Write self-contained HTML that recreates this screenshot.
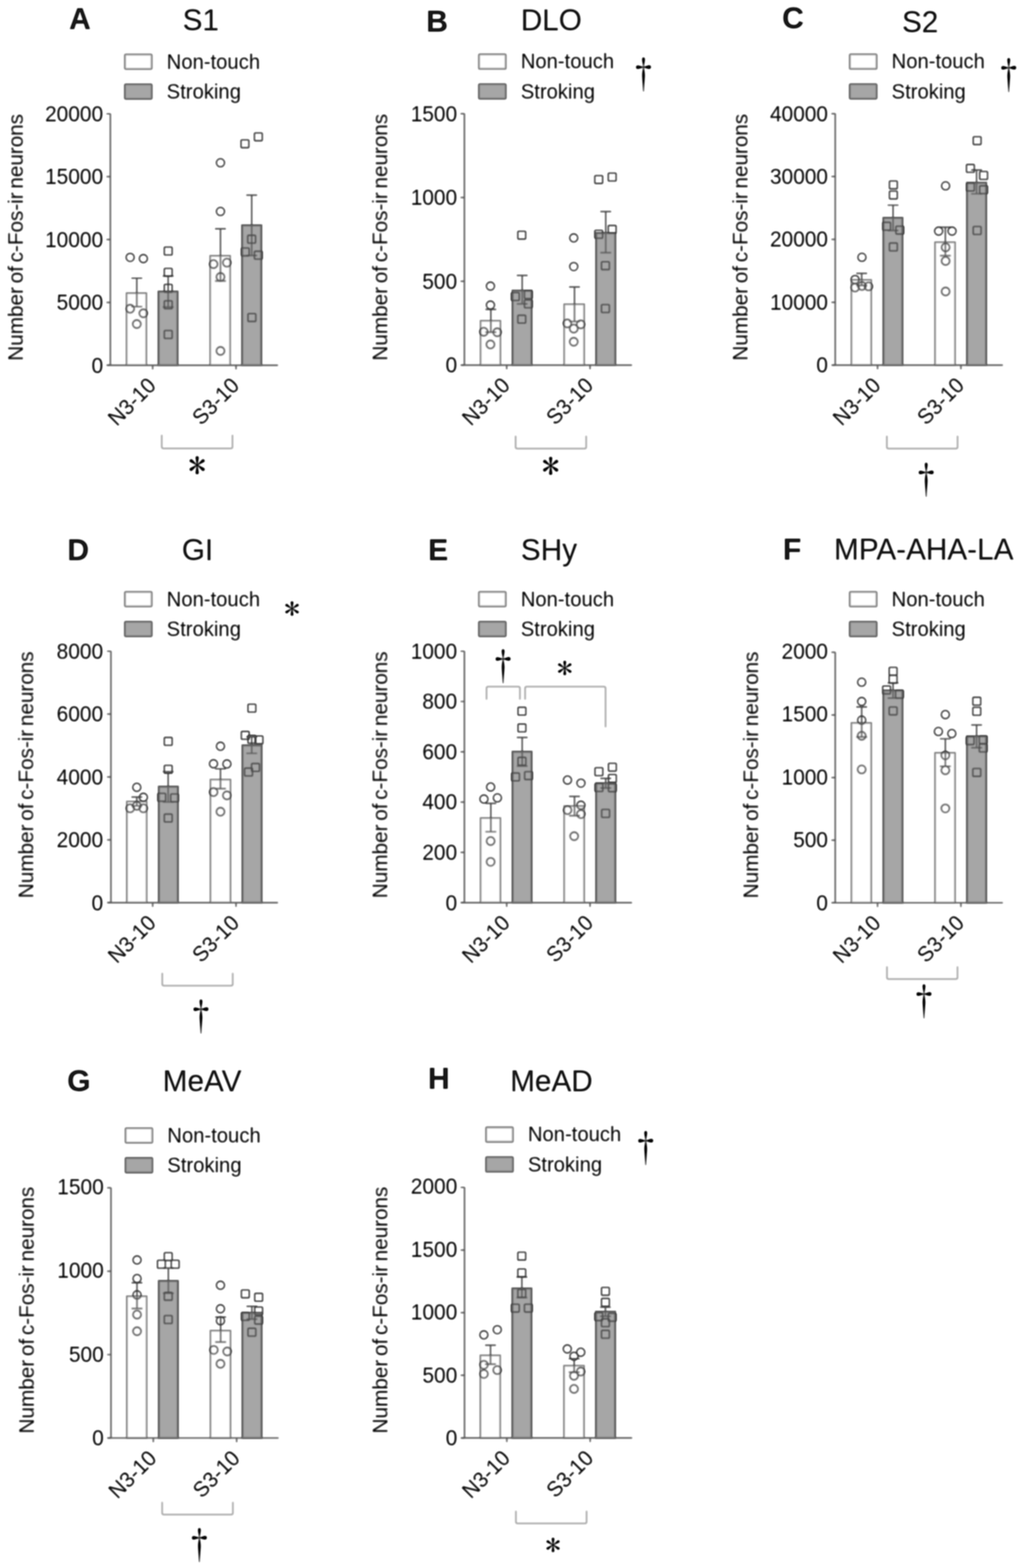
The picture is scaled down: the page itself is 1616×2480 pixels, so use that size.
<!DOCTYPE html>
<html lang="en">
<head>
<meta charset="utf-8">
<title>Number of c-Fos-ir neurons by brain region</title>
<style>
html,body{margin:0;padding:0;background:#fff;}
body{width:1616px;height:2480px;overflow:hidden;}
svg{display:block;}
svg text{font-family:"Liberation Sans",sans-serif;fill:#181818;stroke:#181818;stroke-width:0;}
svg text.ast{font-family:"IPAGothic","Liberation Serif",serif;fill:#0a0a0a;stroke:none;}
svg text.dag{font-family:"Noto Serif CJK SC","Liberation Serif",serif;fill:#0a0a0a;stroke:none;}
svg text.yl{word-spacing:-3px;letter-spacing:-0.16px;}
</style>
</head>
<body>
<svg role="img" aria-label="Bar charts of c-Fos-ir neuron counts in eight brain regions" width="1616" height="2480" viewBox="0 0 1616 2480">
<defs>
<filter id="soft-shapes" filterUnits="userSpaceOnUse" x="0" y="0" width="1616" height="2480" color-interpolation-filters="sRGB"><feGaussianBlur stdDeviation="1"/><feComponentTransfer><feFuncA type="linear" slope="1.25" intercept="-0.04"/></feComponentTransfer></filter>
<filter id="soft-text" filterUnits="userSpaceOnUse" x="0" y="0" width="1616" height="2480" color-interpolation-filters="sRGB"><feGaussianBlur stdDeviation="1"/><feComponentTransfer><feFuncA type="linear" slope="1.2" intercept="-0.04"/></feComponentTransfer></filter>
</defs>
<rect width="1616" height="2480" fill="#ffffff"/>
<g class="shapes" filter="url(#soft-shapes)">
<rect x="200.1" y="463.6" width="31.3" height="114.1" fill="#ffffff" stroke="#8a8a8a" stroke-width="2.5"/>
<rect x="250.7" y="461.2" width="30" height="116.5" fill="#a6a6a6" stroke="#626262" stroke-width="3.0"/>
<rect x="332.3" y="404.6" width="31.6" height="173.1" fill="#ffffff" stroke="#8a8a8a" stroke-width="2.5"/>
<rect x="382.9" y="356.4" width="30.2" height="221.3" fill="#a6a6a6" stroke="#626262" stroke-width="3.0"/>
<path d="M174.5 179.7 V578.7 M169.5 577.7 H439.5" fill="none" stroke="#707070" stroke-width="2.4"/>
<path d="M168.5 577.7 H174.5 M168.5 478.3 H174.5 M168.5 378.9 H174.5 M168.5 279.4 H174.5 M168.5 180 H174.5 M241.4 577.7 V584.2 M373.2 577.7 V584.2" fill="none" stroke="#6a6a6a" stroke-width="2.2"/>
<path d="M216.3 440 V485 M207.8 440 H224.8 M207.8 485 H224.8 M265.9 436.7 V485.7 M257.4 436.7 H274.4 M257.4 485.7 H274.4 M348.6 361.8 V444.4 M340.1 361.8 H357.1 M340.1 444.4 H357.1 M398 308.6 V404.2 M389.5 308.6 H406.5 M389.5 404.2 H406.5" fill="none" stroke="#5c5c5c" stroke-width="2.2"/>
<circle cx="205.8" cy="407.1" r="6.4" fill="none" stroke="#484848" stroke-width="2.1"/>
<circle cx="226.7" cy="409" r="6.4" fill="none" stroke="#484848" stroke-width="2.1"/>
<circle cx="205.8" cy="488.3" r="6.4" fill="none" stroke="#484848" stroke-width="2.1"/>
<circle cx="226.7" cy="495.5" r="6.4" fill="none" stroke="#484848" stroke-width="2.1"/>
<circle cx="216.3" cy="512.5" r="6.4" fill="none" stroke="#484848" stroke-width="2.1"/>
<rect x="259.8" y="390.8" width="12.4" height="12.4" rx="1.5" fill="none" stroke="#484848" stroke-width="2.1"/>
<rect x="259.8" y="424.5" width="12.4" height="12.4" rx="1.5" fill="none" stroke="#484848" stroke-width="2.1"/>
<rect x="259.8" y="449.8" width="12.4" height="12.4" rx="1.5" fill="none" stroke="#484848" stroke-width="2.1"/>
<rect x="259.8" y="475.8" width="12.4" height="12.4" rx="1.5" fill="none" stroke="#484848" stroke-width="2.1"/>
<rect x="259.8" y="522.8" width="12.4" height="12.4" rx="1.5" fill="none" stroke="#484848" stroke-width="2.1"/>
<circle cx="348.6" cy="257.4" r="6.4" fill="none" stroke="#484848" stroke-width="2.1"/>
<circle cx="348.6" cy="334.4" r="6.4" fill="none" stroke="#484848" stroke-width="2.1"/>
<circle cx="337.6" cy="417.7" r="6.4" fill="none" stroke="#484848" stroke-width="2.1"/>
<circle cx="358.8" cy="415.4" r="6.4" fill="none" stroke="#484848" stroke-width="2.1"/>
<circle cx="348.6" cy="438" r="6.4" fill="none" stroke="#484848" stroke-width="2.1"/>
<circle cx="348.6" cy="555" r="6.4" fill="none" stroke="#484848" stroke-width="2.1"/>
<rect x="381.1" y="221.2" width="12.4" height="12.4" rx="1.5" fill="none" stroke="#484848" stroke-width="2.1"/>
<rect x="402.3" y="210.2" width="12.4" height="12.4" rx="1.5" fill="none" stroke="#484848" stroke-width="2.1"/>
<rect x="391.7" y="372.1" width="12.4" height="12.4" rx="1.5" fill="none" stroke="#484848" stroke-width="2.1"/>
<rect x="381.6" y="392.2" width="12.4" height="12.4" rx="1.5" fill="none" stroke="#484848" stroke-width="2.1"/>
<rect x="402.3" y="397.4" width="12.4" height="12.4" rx="1.5" fill="none" stroke="#484848" stroke-width="2.1"/>
<rect x="392.1" y="496" width="12.4" height="12.4" rx="1.5" fill="none" stroke="#484848" stroke-width="2.1"/>
<rect x="197.5" y="86.1" width="42.4" height="23.0" rx="1.5" fill="#ffffff" stroke="#8c8c8c" stroke-width="2.8"/>
<rect x="197.5" y="133.3" width="42.4" height="23.0" rx="1.5" fill="#a6a6a6" stroke="#6e6e6e" stroke-width="2.8"/>
<path d="M255.8 687.7 V706.7 Q255.8 709.2 258.3 709.2 H365.1 Q367.6 709.2 367.6 706.7 V687.7" fill="none" stroke="#b2b2b2" stroke-width="2.5" stroke-linejoin="round"/>
<rect x="759.9" y="507.3" width="31.3" height="70.2" fill="#ffffff" stroke="#8a8a8a" stroke-width="2.5"/>
<rect x="810.5" y="459.7" width="30" height="117.8" fill="#a6a6a6" stroke="#626262" stroke-width="3.0"/>
<rect x="892.1" y="481.2" width="31.6" height="96.3" fill="#ffffff" stroke="#8a8a8a" stroke-width="2.5"/>
<rect x="942.7" y="368.6" width="30.2" height="208.9" fill="#a6a6a6" stroke="#626262" stroke-width="3.0"/>
<path d="M734.3 179.5 V578.5 M729.3 577.5 H999.3" fill="none" stroke="#707070" stroke-width="2.4"/>
<path d="M728.3 577.5 H734.3 M728.3 444.9 H734.3 M728.3 312.4 H734.3 M728.3 179.8 H734.3 M801.2 577.5 V584 M933 577.5 V584" fill="none" stroke="#6a6a6a" stroke-width="2.2"/>
<path d="M776.1 489.3 V525.3 M767.6 489.3 H784.6 M767.6 525.3 H784.6 M825.7 435.7 V480.6 M817.2 435.7 H834.2 M817.2 480.6 H834.2 M908.4 453.9 V508.5 M899.9 453.9 H916.9 M899.9 508.5 H916.9 M957.8 334.7 V399.7 M949.3 334.7 H966.3 M949.3 399.7 H966.3" fill="none" stroke="#5c5c5c" stroke-width="2.2"/>
<circle cx="775.5" cy="452.5" r="6.4" fill="none" stroke="#484848" stroke-width="2.1"/>
<circle cx="775.5" cy="482.5" r="6.4" fill="none" stroke="#484848" stroke-width="2.1"/>
<circle cx="764.9" cy="524.7" r="6.4" fill="none" stroke="#484848" stroke-width="2.1"/>
<circle cx="786.2" cy="525.5" r="6.4" fill="none" stroke="#484848" stroke-width="2.1"/>
<circle cx="775.5" cy="544.8" r="6.4" fill="none" stroke="#484848" stroke-width="2.1"/>
<rect x="818.8" y="365.7" width="12.4" height="12.4" rx="1.5" fill="none" stroke="#484848" stroke-width="2.1"/>
<rect x="808.6" y="462.8" width="12.4" height="12.4" rx="1.5" fill="none" stroke="#484848" stroke-width="2.1"/>
<rect x="829.3" y="459.8" width="12.4" height="12.4" rx="1.5" fill="none" stroke="#484848" stroke-width="2.1"/>
<rect x="829.3" y="474.4" width="12.4" height="12.4" rx="1.5" fill="none" stroke="#484848" stroke-width="2.1"/>
<rect x="818.8" y="498.6" width="12.4" height="12.4" rx="1.5" fill="none" stroke="#484848" stroke-width="2.1"/>
<circle cx="907.2" cy="376.3" r="6.4" fill="none" stroke="#484848" stroke-width="2.1"/>
<circle cx="907.2" cy="421.6" r="6.4" fill="none" stroke="#484848" stroke-width="2.1"/>
<circle cx="897" cy="511.5" r="6.4" fill="none" stroke="#484848" stroke-width="2.1"/>
<circle cx="918.3" cy="513" r="6.4" fill="none" stroke="#484848" stroke-width="2.1"/>
<circle cx="907.2" cy="519.7" r="6.4" fill="none" stroke="#484848" stroke-width="2.1"/>
<circle cx="907.2" cy="540.5" r="6.4" fill="none" stroke="#484848" stroke-width="2.1"/>
<rect x="940.5" y="277.7" width="12.4" height="12.4" rx="1.5" fill="none" stroke="#484848" stroke-width="2.1"/>
<rect x="961.8" y="273.8" width="12.4" height="12.4" rx="1.5" fill="none" stroke="#484848" stroke-width="2.1"/>
<rect x="940.5" y="364.3" width="12.4" height="12.4" rx="1.5" fill="none" stroke="#484848" stroke-width="2.1"/>
<rect x="961.8" y="356.6" width="12.4" height="12.4" rx="1.5" fill="none" stroke="#484848" stroke-width="2.1"/>
<rect x="951.1" y="414" width="12.4" height="12.4" rx="1.5" fill="none" stroke="#484848" stroke-width="2.1"/>
<rect x="951.1" y="481.8" width="12.4" height="12.4" rx="1.5" fill="none" stroke="#484848" stroke-width="2.1"/>
<rect x="757.3" y="85.9" width="42.4" height="23.0" rx="1.5" fill="#ffffff" stroke="#8c8c8c" stroke-width="2.8"/>
<rect x="757.3" y="133.1" width="42.4" height="23.0" rx="1.5" fill="#a6a6a6" stroke="#6e6e6e" stroke-width="2.8"/>
<path d="M815.3 689.2 V707.0 Q815.3 709.5 817.8 709.5 H924.4 Q926.9 709.5 926.9 707.0 V689.2" fill="none" stroke="#b2b2b2" stroke-width="2.5" stroke-linejoin="round"/>
<rect x="1346.3" y="442.7" width="31.3" height="134.8" fill="#ffffff" stroke="#8a8a8a" stroke-width="2.5"/>
<rect x="1396.9" y="344.6" width="30" height="232.9" fill="#a6a6a6" stroke="#626262" stroke-width="3.0"/>
<rect x="1478.5" y="383.1" width="31.6" height="194.4" fill="#ffffff" stroke="#8a8a8a" stroke-width="2.5"/>
<rect x="1529.1" y="289.1" width="30.2" height="288.4" fill="#a6a6a6" stroke="#626262" stroke-width="3.0"/>
<path d="M1320.7 179.5 V578.5 M1315.7 577.5 H1585.7" fill="none" stroke="#707070" stroke-width="2.4"/>
<path d="M1314.7 577.5 H1320.7 M1314.7 478.1 H1320.7 M1314.7 378.6 H1320.7 M1314.7 279.2 H1320.7 M1314.7 179.8 H1320.7 M1387.6 577.5 V584 M1519.4 577.5 V584" fill="none" stroke="#6a6a6a" stroke-width="2.2"/>
<path d="M1362.5 432.4 V451.4 M1354 432.4 H1371 M1354 451.4 H1371 M1412.1 324.5 V364.7 M1403.6 324.5 H1420.6 M1403.6 364.7 H1420.6 M1494.8 359.3 V404.4 M1486.3 359.3 H1503.3 M1486.3 404.4 H1503.3 M1544.2 268.8 V306.5 M1535.7 268.8 H1552.7 M1535.7 306.5 H1552.7" fill="none" stroke="#5c5c5c" stroke-width="2.2"/>
<circle cx="1362.9" cy="406.9" r="6.4" fill="none" stroke="#484848" stroke-width="2.1"/>
<circle cx="1352" cy="442.1" r="6.4" fill="none" stroke="#484848" stroke-width="2.1"/>
<circle cx="1352" cy="454.8" r="6.4" fill="none" stroke="#484848" stroke-width="2.1"/>
<circle cx="1362.9" cy="452.3" r="6.4" fill="none" stroke="#484848" stroke-width="2.1"/>
<circle cx="1373.3" cy="452.9" r="6.4" fill="none" stroke="#484848" stroke-width="2.1"/>
<rect x="1406.4" y="286.2" width="12.4" height="12.4" rx="1.5" fill="none" stroke="#484848" stroke-width="2.1"/>
<rect x="1406.4" y="302.2" width="12.4" height="12.4" rx="1.5" fill="none" stroke="#484848" stroke-width="2.1"/>
<rect x="1395.7" y="351.6" width="12.4" height="12.4" rx="1.5" fill="none" stroke="#484848" stroke-width="2.1"/>
<rect x="1416.6" y="357.7" width="12.4" height="12.4" rx="1.5" fill="none" stroke="#484848" stroke-width="2.1"/>
<rect x="1406.4" y="384.4" width="12.4" height="12.4" rx="1.5" fill="none" stroke="#484848" stroke-width="2.1"/>
<circle cx="1495.2" cy="293.9" r="6.4" fill="none" stroke="#484848" stroke-width="2.1"/>
<circle cx="1484.2" cy="365.5" r="6.4" fill="none" stroke="#484848" stroke-width="2.1"/>
<circle cx="1505.4" cy="365.5" r="6.4" fill="none" stroke="#484848" stroke-width="2.1"/>
<circle cx="1495.2" cy="391.2" r="6.4" fill="none" stroke="#484848" stroke-width="2.1"/>
<circle cx="1495.2" cy="412.7" r="6.4" fill="none" stroke="#484848" stroke-width="2.1"/>
<circle cx="1495.2" cy="461" r="6.4" fill="none" stroke="#484848" stroke-width="2.1"/>
<rect x="1538.9" y="216.2" width="12.4" height="12.4" rx="1.5" fill="none" stroke="#484848" stroke-width="2.1"/>
<rect x="1528.2" y="260.1" width="12.4" height="12.4" rx="1.5" fill="none" stroke="#484848" stroke-width="2.1"/>
<rect x="1549.1" y="271.3" width="12.4" height="12.4" rx="1.5" fill="none" stroke="#484848" stroke-width="2.1"/>
<rect x="1528.2" y="289.6" width="12.4" height="12.4" rx="1.5" fill="none" stroke="#484848" stroke-width="2.1"/>
<rect x="1549.1" y="293.9" width="12.4" height="12.4" rx="1.5" fill="none" stroke="#484848" stroke-width="2.1"/>
<rect x="1538.9" y="358.3" width="12.4" height="12.4" rx="1.5" fill="none" stroke="#484848" stroke-width="2.1"/>
<rect x="1343.7" y="85.9" width="42.4" height="23.0" rx="1.5" fill="#ffffff" stroke="#8c8c8c" stroke-width="2.8"/>
<rect x="1343.7" y="133.1" width="42.4" height="23.0" rx="1.5" fill="#a6a6a6" stroke="#6e6e6e" stroke-width="2.8"/>
<path d="M1402.3 689.2 V707.0 Q1402.3 709.5 1404.8 709.5 H1511.6 Q1514.1 709.5 1514.1 707.0 V689.2" fill="none" stroke="#b2b2b2" stroke-width="2.5" stroke-linejoin="round"/>
<rect x="200.6" y="1267.7" width="31.3" height="160" fill="#ffffff" stroke="#8a8a8a" stroke-width="2.5"/>
<rect x="251.2" y="1244.2" width="30" height="183.5" fill="#a6a6a6" stroke="#626262" stroke-width="3.0"/>
<rect x="332.8" y="1233" width="31.6" height="194.7" fill="#ffffff" stroke="#8a8a8a" stroke-width="2.5"/>
<rect x="383.4" y="1178.9" width="30.2" height="248.8" fill="#a6a6a6" stroke="#626262" stroke-width="3.0"/>
<path d="M175.4 1029.7 V1428.7 M170.4 1427.7 H439.5" fill="none" stroke="#707070" stroke-width="2.4"/>
<path d="M169.4 1427.7 H175.4 M169.4 1328.3 H175.4 M169.4 1228.9 H175.4 M169.4 1129.4 H175.4 M169.4 1030 H175.4 M241.4 1427.7 V1434.2 M373.2 1427.7 V1434.2" fill="none" stroke="#6a6a6a" stroke-width="2.2"/>
<path d="M216.3 1260.6 V1274.5 M207.8 1260.6 H224.8 M207.8 1274.5 H224.8 M265.9 1220.5 V1268.5 M257.4 1220.5 H274.4 M257.4 1268.5 H274.4 M348.6 1216 V1247.4 M340.1 1216 H357.1 M340.1 1247.4 H357.1 M398 1165.4 V1191.5 M389.5 1165.4 H406.5 M389.5 1191.5 H406.5" fill="none" stroke="#5c5c5c" stroke-width="2.2"/>
<circle cx="216.3" cy="1245.2" r="6.4" fill="none" stroke="#484848" stroke-width="2.1"/>
<circle cx="226.7" cy="1261" r="6.4" fill="none" stroke="#484848" stroke-width="2.1"/>
<circle cx="205.8" cy="1278.4" r="6.4" fill="none" stroke="#484848" stroke-width="2.1"/>
<circle cx="226.7" cy="1278.4" r="6.4" fill="none" stroke="#484848" stroke-width="2.1"/>
<circle cx="216.3" cy="1274.5" r="6.4" fill="none" stroke="#484848" stroke-width="2.1"/>
<rect x="259.8" y="1166.4" width="12.4" height="12.4" rx="1.5" fill="none" stroke="#484848" stroke-width="2.1"/>
<rect x="259.8" y="1210.5" width="12.4" height="12.4" rx="1.5" fill="none" stroke="#484848" stroke-width="2.1"/>
<rect x="249.5" y="1254.8" width="12.4" height="12.4" rx="1.5" fill="none" stroke="#484848" stroke-width="2.1"/>
<rect x="269.9" y="1255.7" width="12.4" height="12.4" rx="1.5" fill="none" stroke="#484848" stroke-width="2.1"/>
<rect x="259.8" y="1287.6" width="12.4" height="12.4" rx="1.5" fill="none" stroke="#484848" stroke-width="2.1"/>
<circle cx="348.6" cy="1180.3" r="6.4" fill="none" stroke="#484848" stroke-width="2.1"/>
<circle cx="337.6" cy="1208" r="6.4" fill="none" stroke="#484848" stroke-width="2.1"/>
<circle cx="358.8" cy="1208.3" r="6.4" fill="none" stroke="#484848" stroke-width="2.1"/>
<circle cx="337.6" cy="1252.8" r="6.4" fill="none" stroke="#484848" stroke-width="2.1"/>
<circle cx="358.8" cy="1258" r="6.4" fill="none" stroke="#484848" stroke-width="2.1"/>
<circle cx="348.6" cy="1283.8" r="6.4" fill="none" stroke="#484848" stroke-width="2.1"/>
<rect x="392.1" y="1113.8" width="12.4" height="12.4" rx="1.5" fill="none" stroke="#484848" stroke-width="2.1"/>
<rect x="381.6" y="1156.9" width="12.4" height="12.4" rx="1.5" fill="none" stroke="#484848" stroke-width="2.1"/>
<rect x="392.1" y="1163.1" width="12.4" height="12.4" rx="1.5" fill="none" stroke="#484848" stroke-width="2.1"/>
<rect x="403.3" y="1164" width="12.4" height="12.4" rx="1.5" fill="none" stroke="#484848" stroke-width="2.1"/>
<rect x="397.8" y="1207.6" width="12.4" height="12.4" rx="1.5" fill="none" stroke="#484848" stroke-width="2.1"/>
<rect x="386.8" y="1214.9" width="12.4" height="12.4" rx="1.5" fill="none" stroke="#484848" stroke-width="2.1"/>
<rect x="197.5" y="936.1" width="42.4" height="23.0" rx="1.5" fill="#ffffff" stroke="#8c8c8c" stroke-width="2.8"/>
<rect x="197.5" y="983.3" width="42.4" height="23.0" rx="1.5" fill="#a6a6a6" stroke="#6e6e6e" stroke-width="2.8"/>
<path d="M256.6 1538.8 V1556.5 Q256.6 1559.0 259.1 1559.0 H365.5 Q368.0 1559.0 368.0 1556.5 V1538.8" fill="none" stroke="#b2b2b2" stroke-width="2.5" stroke-linejoin="round"/>
<rect x="759.9" y="1293.8" width="31.3" height="133.9" fill="#ffffff" stroke="#8a8a8a" stroke-width="2.5"/>
<rect x="810.5" y="1189" width="30" height="238.7" fill="#a6a6a6" stroke="#626262" stroke-width="3.0"/>
<rect x="892.1" y="1274.9" width="31.6" height="152.8" fill="#ffffff" stroke="#8a8a8a" stroke-width="2.5"/>
<rect x="942.7" y="1238.8" width="30.2" height="188.9" fill="#a6a6a6" stroke="#626262" stroke-width="3.0"/>
<path d="M734.3 1029.7 V1428.7 M729.3 1427.7 H999.3" fill="none" stroke="#707070" stroke-width="2.4"/>
<path d="M728.3 1427.7 H734.3 M728.3 1348.2 H734.3 M728.3 1268.6 H734.3 M728.3 1189.1 H734.3 M728.3 1109.5 H734.3 M728.3 1030 H734.3 M801.2 1427.7 V1434.2 M933 1427.7 V1434.2" fill="none" stroke="#6a6a6a" stroke-width="2.2"/>
<path d="M776.1 1270.6 V1315.5 M767.6 1270.6 H784.6 M767.6 1315.5 H784.6 M825.7 1166.4 V1211.6 M817.2 1166.4 H834.2 M817.2 1211.6 H834.2 M908.4 1259.6 V1290.2 M899.9 1259.6 H916.9 M899.9 1290.2 H916.9 M957.8 1231.2 V1246.4 M949.3 1231.2 H966.3 M949.3 1246.4 H966.3" fill="none" stroke="#5c5c5c" stroke-width="2.2"/>
<circle cx="775.8" cy="1244.7" r="6.4" fill="none" stroke="#484848" stroke-width="2.1"/>
<circle cx="765.2" cy="1263.8" r="6.4" fill="none" stroke="#484848" stroke-width="2.1"/>
<circle cx="786.5" cy="1261.9" r="6.4" fill="none" stroke="#484848" stroke-width="2.1"/>
<circle cx="775.8" cy="1330.2" r="6.4" fill="none" stroke="#484848" stroke-width="2.1"/>
<circle cx="775.8" cy="1363.1" r="6.4" fill="none" stroke="#484848" stroke-width="2.1"/>
<rect x="819.1" y="1118.6" width="12.4" height="12.4" rx="1.5" fill="none" stroke="#484848" stroke-width="2.1"/>
<rect x="819.1" y="1145.1" width="12.4" height="12.4" rx="1.5" fill="none" stroke="#484848" stroke-width="2.1"/>
<rect x="819.1" y="1197.9" width="12.4" height="12.4" rx="1.5" fill="none" stroke="#484848" stroke-width="2.1"/>
<rect x="808.9" y="1222.6" width="12.4" height="12.4" rx="1.5" fill="none" stroke="#484848" stroke-width="2.1"/>
<rect x="829.6" y="1220.5" width="12.4" height="12.4" rx="1.5" fill="none" stroke="#484848" stroke-width="2.1"/>
<circle cx="897.3" cy="1233.7" r="6.4" fill="none" stroke="#484848" stroke-width="2.1"/>
<circle cx="918.6" cy="1238.6" r="6.4" fill="none" stroke="#484848" stroke-width="2.1"/>
<circle cx="897.3" cy="1281.3" r="6.4" fill="none" stroke="#484848" stroke-width="2.1"/>
<circle cx="918.6" cy="1273.5" r="6.4" fill="none" stroke="#484848" stroke-width="2.1"/>
<circle cx="918.6" cy="1287.6" r="6.4" fill="none" stroke="#484848" stroke-width="2.1"/>
<circle cx="907.9" cy="1322.5" r="6.4" fill="none" stroke="#484848" stroke-width="2.1"/>
<rect x="962.1" y="1207.2" width="12.4" height="12.4" rx="1.5" fill="none" stroke="#484848" stroke-width="2.1"/>
<rect x="940.8" y="1214.3" width="12.4" height="12.4" rx="1.5" fill="none" stroke="#484848" stroke-width="2.1"/>
<rect x="962.1" y="1225" width="12.4" height="12.4" rx="1.5" fill="none" stroke="#484848" stroke-width="2.1"/>
<rect x="940.8" y="1239.3" width="12.4" height="12.4" rx="1.5" fill="none" stroke="#484848" stroke-width="2.1"/>
<rect x="962.1" y="1239.7" width="12.4" height="12.4" rx="1.5" fill="none" stroke="#484848" stroke-width="2.1"/>
<rect x="951.4" y="1280.3" width="12.4" height="12.4" rx="1.5" fill="none" stroke="#484848" stroke-width="2.1"/>
<rect x="757.3" y="936.1" width="42.4" height="23.0" rx="1.5" fill="#ffffff" stroke="#8c8c8c" stroke-width="2.8"/>
<rect x="757.3" y="983.3" width="42.4" height="23.0" rx="1.5" fill="#a6a6a6" stroke="#6e6e6e" stroke-width="2.8"/>
<path d="M769.3 1106.4 V1088.6 Q769.3 1086.1 771.8 1086.1 H819.6 Q822.1 1086.1 822.1 1088.6 V1106.4" fill="none" stroke="#b2b2b2" stroke-width="2.5" stroke-linejoin="round"/>
<path d="M830.3 1106.4 V1088.6 Q830.3 1086.1 832.8 1086.1 H955 Q957.5 1086.1 957.5 1088.6 V1150.3" fill="none" stroke="#b2b2b2" stroke-width="2.5" stroke-linejoin="round"/>
<rect x="1346.3" y="1143.4" width="31.3" height="284.5" fill="#ffffff" stroke="#8a8a8a" stroke-width="2.5"/>
<rect x="1396.9" y="1092.1" width="30" height="335.8" fill="#a6a6a6" stroke="#626262" stroke-width="3.0"/>
<rect x="1478.5" y="1190.7" width="31.6" height="237.2" fill="#ffffff" stroke="#8a8a8a" stroke-width="2.5"/>
<rect x="1529.1" y="1164.6" width="30.2" height="263.3" fill="#a6a6a6" stroke="#626262" stroke-width="3.0"/>
<path d="M1320.7 1031.4 V1428.9 M1315.7 1427.9 H1585.7" fill="none" stroke="#707070" stroke-width="2.4"/>
<path d="M1314.7 1427.9 H1320.7 M1314.7 1328.9 H1320.7 M1314.7 1229.8 H1320.7 M1314.7 1130.8 H1320.7 M1314.7 1031.7 H1320.7 M1387.6 1427.9 V1434.4 M1519.4 1427.9 V1434.4" fill="none" stroke="#6a6a6a" stroke-width="2.2"/>
<path d="M1362.5 1118.2 V1165.6 M1354 1118.2 H1371 M1354 1165.6 H1371 M1412.1 1080.1 V1104.2 M1403.6 1080.1 H1420.6 M1403.6 1104.2 H1420.6 M1494.8 1168.5 V1212 M1486.3 1168.5 H1503.3 M1486.3 1212 H1503.3 M1544.2 1146.6 V1182.6 M1535.7 1146.6 H1552.7 M1535.7 1182.6 H1552.7" fill="none" stroke="#5c5c5c" stroke-width="2.2"/>
<circle cx="1362.5" cy="1078.9" r="6.4" fill="none" stroke="#484848" stroke-width="2.1"/>
<circle cx="1362.5" cy="1109.5" r="6.4" fill="none" stroke="#484848" stroke-width="2.1"/>
<circle cx="1362.5" cy="1138.9" r="6.4" fill="none" stroke="#484848" stroke-width="2.1"/>
<circle cx="1362.5" cy="1163.7" r="6.4" fill="none" stroke="#484848" stroke-width="2.1"/>
<circle cx="1362.5" cy="1216.9" r="6.4" fill="none" stroke="#484848" stroke-width="2.1"/>
<rect x="1406" y="1055.5" width="12.4" height="12.4" rx="1.5" fill="none" stroke="#484848" stroke-width="2.1"/>
<rect x="1406" y="1068.1" width="12.4" height="12.4" rx="1.5" fill="none" stroke="#484848" stroke-width="2.1"/>
<rect x="1395.7" y="1085" width="12.4" height="12.4" rx="1.5" fill="none" stroke="#484848" stroke-width="2.1"/>
<rect x="1416.1" y="1091.7" width="12.4" height="12.4" rx="1.5" fill="none" stroke="#484848" stroke-width="2.1"/>
<rect x="1406" y="1118.2" width="12.4" height="12.4" rx="1.5" fill="none" stroke="#484848" stroke-width="2.1"/>
<circle cx="1494.8" cy="1130.2" r="6.4" fill="none" stroke="#484848" stroke-width="2.1"/>
<circle cx="1483.8" cy="1156.9" r="6.4" fill="none" stroke="#484848" stroke-width="2.1"/>
<circle cx="1505" cy="1160.2" r="6.4" fill="none" stroke="#484848" stroke-width="2.1"/>
<circle cx="1494.8" cy="1194.6" r="6.4" fill="none" stroke="#484848" stroke-width="2.1"/>
<circle cx="1494.8" cy="1218.2" r="6.4" fill="none" stroke="#484848" stroke-width="2.1"/>
<circle cx="1494.8" cy="1278.6" r="6.4" fill="none" stroke="#484848" stroke-width="2.1"/>
<rect x="1538.3" y="1102.9" width="12.4" height="12.4" rx="1.5" fill="none" stroke="#484848" stroke-width="2.1"/>
<rect x="1538.3" y="1118.8" width="12.4" height="12.4" rx="1.5" fill="none" stroke="#484848" stroke-width="2.1"/>
<rect x="1527.8" y="1165.2" width="12.4" height="12.4" rx="1.5" fill="none" stroke="#484848" stroke-width="2.1"/>
<rect x="1548.5" y="1163.7" width="12.4" height="12.4" rx="1.5" fill="none" stroke="#484848" stroke-width="2.1"/>
<rect x="1548.5" y="1176.8" width="12.4" height="12.4" rx="1.5" fill="none" stroke="#484848" stroke-width="2.1"/>
<rect x="1538.3" y="1215.5" width="12.4" height="12.4" rx="1.5" fill="none" stroke="#484848" stroke-width="2.1"/>
<rect x="1343.7" y="936.2" width="42.4" height="23.0" rx="1.5" fill="#ffffff" stroke="#8c8c8c" stroke-width="2.8"/>
<rect x="1343.7" y="983.4" width="42.4" height="23.0" rx="1.5" fill="#a6a6a6" stroke="#6e6e6e" stroke-width="2.8"/>
<path d="M1402.5 1528.5 V1545.9 Q1402.5 1548.4 1405.0 1548.4 H1511.5 Q1514.0 1548.4 1514.0 1545.9 V1528.5" fill="none" stroke="#b2b2b2" stroke-width="2.5" stroke-linejoin="round"/>
<rect x="200.6" y="2050.2" width="31.3" height="224.2" fill="#ffffff" stroke="#8a8a8a" stroke-width="2.5"/>
<rect x="251.2" y="2026" width="30" height="248.4" fill="#a6a6a6" stroke="#626262" stroke-width="3.0"/>
<rect x="332.8" y="2104.6" width="31.6" height="169.8" fill="#ffffff" stroke="#8a8a8a" stroke-width="2.5"/>
<rect x="383.4" y="2076.4" width="30.2" height="198" fill="#a6a6a6" stroke="#626262" stroke-width="3.0"/>
<path d="M175.5 1878.4 V2275.4 M170.5 2274.4 H440.5" fill="none" stroke="#707070" stroke-width="2.4"/>
<path d="M169.5 2274.4 H175.5 M169.5 2142.5 H175.5 M169.5 2010.6 H175.5 M169.5 1878.7 H175.5 M242.4 2274.4 V2280.9 M374.2 2274.4 V2280.9" fill="none" stroke="#6a6a6a" stroke-width="2.2"/>
<path d="M216.6 2028.9 V2069.6 M208.1 2028.9 H225.1 M208.1 2069.6 H225.1 M266.2 2005.7 V2045.4 M257.7 2005.7 H274.7 M257.7 2045.4 H274.7 M348.9 2083.1 V2122.6 M340.4 2083.1 H357.4 M340.4 2122.6 H357.4 M398.3 2066.1 V2086.4 M389.8 2066.1 H406.8 M389.8 2086.4 H406.8" fill="none" stroke="#5c5c5c" stroke-width="2.2"/>
<circle cx="216.7" cy="1992.8" r="6.4" fill="none" stroke="#484848" stroke-width="2.1"/>
<circle cx="216.7" cy="2022.2" r="6.4" fill="none" stroke="#484848" stroke-width="2.1"/>
<circle cx="216.7" cy="2047.9" r="6.4" fill="none" stroke="#484848" stroke-width="2.1"/>
<circle cx="216.7" cy="2079.2" r="6.4" fill="none" stroke="#484848" stroke-width="2.1"/>
<circle cx="216.7" cy="2105.5" r="6.4" fill="none" stroke="#484848" stroke-width="2.1"/>
<rect x="259.8" y="1981.2" width="12.4" height="12.4" rx="1.5" fill="none" stroke="#484848" stroke-width="2.1"/>
<rect x="249" y="1993.3" width="12.4" height="12.4" rx="1.5" fill="none" stroke="#484848" stroke-width="2.1"/>
<rect x="270.8" y="1993.3" width="12.4" height="12.4" rx="1.5" fill="none" stroke="#484848" stroke-width="2.1"/>
<rect x="259.8" y="2044" width="12.4" height="12.4" rx="1.5" fill="none" stroke="#484848" stroke-width="2.1"/>
<rect x="259.8" y="2080.8" width="12.4" height="12.4" rx="1.5" fill="none" stroke="#484848" stroke-width="2.1"/>
<circle cx="348.6" cy="2032.8" r="6.4" fill="none" stroke="#484848" stroke-width="2.1"/>
<circle cx="348.6" cy="2070" r="6.4" fill="none" stroke="#484848" stroke-width="2.1"/>
<circle cx="348.6" cy="2088.9" r="6.4" fill="none" stroke="#484848" stroke-width="2.1"/>
<circle cx="338" cy="2135.1" r="6.4" fill="none" stroke="#484848" stroke-width="2.1"/>
<circle cx="359.3" cy="2137.5" r="6.4" fill="none" stroke="#484848" stroke-width="2.1"/>
<circle cx="348.6" cy="2157" r="6.4" fill="none" stroke="#484848" stroke-width="2.1"/>
<rect x="381.7" y="2040.2" width="12.4" height="12.4" rx="1.5" fill="none" stroke="#484848" stroke-width="2.1"/>
<rect x="402.8" y="2045.6" width="12.4" height="12.4" rx="1.5" fill="none" stroke="#484848" stroke-width="2.1"/>
<rect x="402.8" y="2067.2" width="12.4" height="12.4" rx="1.5" fill="none" stroke="#484848" stroke-width="2.1"/>
<rect x="381.7" y="2075.9" width="12.4" height="12.4" rx="1.5" fill="none" stroke="#484848" stroke-width="2.1"/>
<rect x="402.8" y="2081.7" width="12.4" height="12.4" rx="1.5" fill="none" stroke="#484848" stroke-width="2.1"/>
<rect x="392.1" y="2100.9" width="12.4" height="12.4" rx="1.5" fill="none" stroke="#484848" stroke-width="2.1"/>
<rect x="198.5" y="1784.3" width="42.4" height="23.0" rx="1.5" fill="#ffffff" stroke="#8c8c8c" stroke-width="2.8"/>
<rect x="198.5" y="1831.5" width="42.4" height="23.0" rx="1.5" fill="#a6a6a6" stroke="#6e6e6e" stroke-width="2.8"/>
<path d="M256.4 2375.5 V2393.1 Q256.4 2395.6 258.9 2395.6 H365.7 Q368.2 2395.6 368.2 2393.1 V2375.5" fill="none" stroke="#b2b2b2" stroke-width="2.5" stroke-linejoin="round"/>
<rect x="759.6" y="2143.7" width="31.3" height="130.6" fill="#ffffff" stroke="#8a8a8a" stroke-width="2.5"/>
<rect x="810.2" y="2037.9" width="30" height="236.4" fill="#a6a6a6" stroke="#626262" stroke-width="3.0"/>
<rect x="891.8" y="2160" width="31.6" height="114.3" fill="#ffffff" stroke="#8a8a8a" stroke-width="2.5"/>
<rect x="942.4" y="2074.7" width="30.2" height="199.6" fill="#a6a6a6" stroke="#626262" stroke-width="3.0"/>
<path d="M734.5 1877.7 V2275.3 M729.5 2274.3 H999.5" fill="none" stroke="#707070" stroke-width="2.4"/>
<path d="M728.5 2274.3 H734.5 M728.5 2175.2 H734.5 M728.5 2076.2 H734.5 M728.5 1977.1 H734.5 M728.5 1878 H734.5 M801.4 2274.3 V2280.8 M933.2 2274.3 V2280.8" fill="none" stroke="#6a6a6a" stroke-width="2.2"/>
<path d="M775.6 2127.7 V2157.7 M767.1 2127.7 H784.1 M767.1 2157.7 H784.1 M825.2 2019.9 V2052.4 M816.7 2019.9 H833.7 M816.7 2052.4 H833.7 M907.9 2149 V2170.3 M899.4 2149 H916.4 M899.4 2170.3 H916.4 M957.3 2067.5 V2081.8 M948.8 2067.5 H965.8 M948.8 2081.8 H965.8" fill="none" stroke="#5c5c5c" stroke-width="2.2"/>
<circle cx="765.1" cy="2111.3" r="6.4" fill="none" stroke="#484848" stroke-width="2.1"/>
<circle cx="786.3" cy="2103.1" r="6.4" fill="none" stroke="#484848" stroke-width="2.1"/>
<circle cx="765.1" cy="2158.6" r="6.4" fill="none" stroke="#484848" stroke-width="2.1"/>
<circle cx="786.3" cy="2166.9" r="6.4" fill="none" stroke="#484848" stroke-width="2.1"/>
<circle cx="765.1" cy="2173.1" r="6.4" fill="none" stroke="#484848" stroke-width="2.1"/>
<rect x="818.8" y="1980.5" width="12.4" height="12.4" rx="1.5" fill="none" stroke="#484848" stroke-width="2.1"/>
<rect x="818.8" y="2007" width="12.4" height="12.4" rx="1.5" fill="none" stroke="#484848" stroke-width="2.1"/>
<rect x="818.8" y="2039.5" width="12.4" height="12.4" rx="1.5" fill="none" stroke="#484848" stroke-width="2.1"/>
<rect x="808.6" y="2062.7" width="12.4" height="12.4" rx="1.5" fill="none" stroke="#484848" stroke-width="2.1"/>
<rect x="829.3" y="2062.7" width="12.4" height="12.4" rx="1.5" fill="none" stroke="#484848" stroke-width="2.1"/>
<circle cx="897" cy="2133.5" r="6.4" fill="none" stroke="#484848" stroke-width="2.1"/>
<circle cx="918.3" cy="2138.7" r="6.4" fill="none" stroke="#484848" stroke-width="2.1"/>
<circle cx="907.6" cy="2145.1" r="6.4" fill="none" stroke="#484848" stroke-width="2.1"/>
<circle cx="918.3" cy="2169.3" r="6.4" fill="none" stroke="#484848" stroke-width="2.1"/>
<circle cx="907.6" cy="2176" r="6.4" fill="none" stroke="#484848" stroke-width="2.1"/>
<circle cx="907.6" cy="2196.7" r="6.4" fill="none" stroke="#484848" stroke-width="2.1"/>
<rect x="951.1" y="2036.2" width="12.4" height="12.4" rx="1.5" fill="none" stroke="#484848" stroke-width="2.1"/>
<rect x="951.1" y="2053.6" width="12.4" height="12.4" rx="1.5" fill="none" stroke="#484848" stroke-width="2.1"/>
<rect x="940.5" y="2076.2" width="12.4" height="12.4" rx="1.5" fill="none" stroke="#484848" stroke-width="2.1"/>
<rect x="961.8" y="2077.2" width="12.4" height="12.4" rx="1.5" fill="none" stroke="#484848" stroke-width="2.1"/>
<rect x="951.1" y="2085.9" width="12.4" height="12.4" rx="1.5" fill="none" stroke="#484848" stroke-width="2.1"/>
<rect x="951.1" y="2104.1" width="12.4" height="12.4" rx="1.5" fill="none" stroke="#484848" stroke-width="2.1"/>
<rect x="768.6" y="1783" width="42.4" height="23.0" rx="1.5" fill="#ffffff" stroke="#8c8c8c" stroke-width="2.8"/>
<rect x="768.6" y="1830.2" width="42.4" height="23.0" rx="1.5" fill="#a6a6a6" stroke="#6e6e6e" stroke-width="2.8"/>
<path d="M815.8 2389.5 V2407.0 Q815.8 2409.5 818.3 2409.5 H925.0 Q927.5 2409.5 927.5 2407.0 V2389.5" fill="none" stroke="#b2b2b2" stroke-width="2.5" stroke-linejoin="round"/>
</g>
<g class="labels" filter="url(#soft-text)">
<text transform="translate(163 589.5) scale(1 1.04)" text-anchor="end" font-size="33">0</text>
<text transform="translate(163 490.1) scale(1 1.04)" text-anchor="end" font-size="33">5000</text>
<text transform="translate(163 390.7) scale(1 1.04)" text-anchor="end" font-size="33">10000</text>
<text transform="translate(163 291.2) scale(1 1.04)" text-anchor="end" font-size="33">15000</text>
<text transform="translate(163 191.8) scale(1 1.04)" text-anchor="end" font-size="33">20000</text>
<text transform="translate(36.1 375.5) rotate(-90)" text-anchor="middle" class="yl" font-size="33">Number of c-Fos-ir neurons</text>
<text transform="translate(248.4 611.7) rotate(-45) scale(1 1.04)" text-anchor="end" font-size="33">N3-10</text>
<text transform="translate(380.2 611.7) rotate(-45) scale(1 1.04)" text-anchor="end" font-size="33">S3-10</text>
<text transform="translate(263.6 108.5) scale(1 1.02)" font-size="32">Non-touch</text>
<text transform="translate(263.6 155.7) scale(1 1.02)" font-size="32">Stroking</text>
<text transform="translate(317.5 47.5) scale(1 1.04)" text-anchor="middle" font-size="47">S1</text>
<text transform="translate(126.5 46)" text-anchor="middle" font-weight="bold" font-size="47.5">A</text>
<text class="ast" transform="translate(311.8 757) scale(1.0 1)" text-anchor="middle" font-size="57">*</text>
<text transform="translate(722.8 589.3) scale(1 1.04)" text-anchor="end" font-size="33">0</text>
<text transform="translate(722.8 456.7) scale(1 1.04)" text-anchor="end" font-size="33">500</text>
<text transform="translate(722.8 324.2) scale(1 1.04)" text-anchor="end" font-size="33">1000</text>
<text transform="translate(722.8 191.6) scale(1 1.04)" text-anchor="end" font-size="33">1500</text>
<text transform="translate(612.3 375.3) rotate(-90)" text-anchor="middle" class="yl" font-size="33">Number of c-Fos-ir neurons</text>
<text transform="translate(808.2 611.5) rotate(-45) scale(1 1.04)" text-anchor="end" font-size="33">N3-10</text>
<text transform="translate(940 611.5) rotate(-45) scale(1 1.04)" text-anchor="end" font-size="33">S3-10</text>
<text transform="translate(823.4 108.3) scale(1 1.02)" font-size="32">Non-touch</text>
<text transform="translate(823.4 155.5) scale(1 1.02)" font-size="32">Stroking</text>
<text transform="translate(871.7 48) scale(1 1.04)" text-anchor="middle" font-size="47">DLO</text>
<text transform="translate(691.2 49.5)" text-anchor="middle" font-weight="bold" font-size="47.5">B</text>
<text class="ast" transform="translate(870.7 757.9) scale(1.0 1)" text-anchor="middle" font-size="57">*</text>
<text class="dag" transform="translate(1017.5 141.3) scale(0.79 1)" text-anchor="middle" font-size="62">†</text>
<text transform="translate(1309.2 589.3) scale(1 1.04)" text-anchor="end" font-size="33">0</text>
<text transform="translate(1309.2 489.9) scale(1 1.04)" text-anchor="end" font-size="33">10000</text>
<text transform="translate(1309.2 390.4) scale(1 1.04)" text-anchor="end" font-size="33">20000</text>
<text transform="translate(1309.2 291) scale(1 1.04)" text-anchor="end" font-size="33">30000</text>
<text transform="translate(1309.2 191.6) scale(1 1.04)" text-anchor="end" font-size="33">40000</text>
<text transform="translate(1181.9 375.3) rotate(-90)" text-anchor="middle" class="yl" font-size="33">Number of c-Fos-ir neurons</text>
<text transform="translate(1394.6 611.5) rotate(-45) scale(1 1.04)" text-anchor="end" font-size="33">N3-10</text>
<text transform="translate(1526.4 611.5) rotate(-45) scale(1 1.04)" text-anchor="end" font-size="33">S3-10</text>
<text transform="translate(1409.8 108.3) scale(1 1.02)" font-size="32">Non-touch</text>
<text transform="translate(1409.8 155.5) scale(1 1.02)" font-size="32">Stroking</text>
<text transform="translate(1455 50.5) scale(1 1.04)" text-anchor="middle" font-size="47">S2</text>
<text transform="translate(1253.8 44.5)" text-anchor="middle" font-weight="bold" font-size="47.5">C</text>
<text class="dag" transform="translate(1594.9 142.4) scale(0.79 1)" text-anchor="middle" font-size="62">†</text>
<text class="dag" transform="translate(1464.4 781.6) scale(0.79 1)" text-anchor="middle" font-size="62">†</text>
<text transform="translate(163 1439.5) scale(1 1.04)" text-anchor="end" font-size="33">0</text>
<text transform="translate(163 1340.1) scale(1 1.04)" text-anchor="end" font-size="33">2000</text>
<text transform="translate(163 1240.7) scale(1 1.04)" text-anchor="end" font-size="33">4000</text>
<text transform="translate(163 1141.2) scale(1 1.04)" text-anchor="end" font-size="33">6000</text>
<text transform="translate(163 1041.8) scale(1 1.04)" text-anchor="end" font-size="33">8000</text>
<text transform="translate(52.5 1225.5) rotate(-90)" text-anchor="middle" class="yl" font-size="33">Number of c-Fos-ir neurons</text>
<text transform="translate(248.4 1461.7) rotate(-45) scale(1 1.04)" text-anchor="end" font-size="33">N3-10</text>
<text transform="translate(380.2 1461.7) rotate(-45) scale(1 1.04)" text-anchor="end" font-size="33">S3-10</text>
<text transform="translate(263.6 958.5) scale(1 1.02)" font-size="32">Non-touch</text>
<text transform="translate(263.6 1005.7) scale(1 1.02)" font-size="32">Stroking</text>
<text transform="translate(312.3 885.5) scale(1 1.04)" text-anchor="middle" font-size="47">GI</text>
<text transform="translate(123.6 886)" text-anchor="middle" font-weight="bold" font-size="47.5">D</text>
<text class="ast" transform="translate(461.7 980) scale(1.11 1)" text-anchor="middle" font-size="46">*</text>
<text class="dag" transform="translate(317.7 1631.3) scale(0.79 1)" text-anchor="middle" font-size="62">†</text>
<text transform="translate(722.8 1439.5) scale(1 1.04)" text-anchor="end" font-size="33">0</text>
<text transform="translate(722.8 1360) scale(1 1.04)" text-anchor="end" font-size="33">200</text>
<text transform="translate(722.8 1280.4) scale(1 1.04)" text-anchor="end" font-size="33">400</text>
<text transform="translate(722.8 1200.9) scale(1 1.04)" text-anchor="end" font-size="33">600</text>
<text transform="translate(722.8 1121.3) scale(1 1.04)" text-anchor="end" font-size="33">800</text>
<text transform="translate(722.8 1041.8) scale(1 1.04)" text-anchor="end" font-size="33">1000</text>
<text transform="translate(612.3 1225.5) rotate(-90)" text-anchor="middle" class="yl" font-size="33">Number of c-Fos-ir neurons</text>
<text transform="translate(808.2 1461.7) rotate(-45) scale(1 1.04)" text-anchor="end" font-size="33">N3-10</text>
<text transform="translate(940 1461.7) rotate(-45) scale(1 1.04)" text-anchor="end" font-size="33">S3-10</text>
<text transform="translate(823.4 958.5) scale(1 1.02)" font-size="32">Non-touch</text>
<text transform="translate(823.4 1005.7) scale(1 1.02)" font-size="32">Stroking</text>
<text transform="translate(868 886) scale(1 1.04)" text-anchor="middle" font-size="47">SHy</text>
<text transform="translate(692.9 886)" text-anchor="middle" font-weight="bold" font-size="47.5">E</text>
<text class="ast" transform="translate(893 1074.3) scale(1.11 1)" text-anchor="middle" font-size="46">*</text>
<text class="dag" transform="translate(795.6 1076.6) scale(0.79 1)" text-anchor="middle" font-size="62">†</text>
<text transform="translate(1309.2 1439.7) scale(1 1.04)" text-anchor="end" font-size="33">0</text>
<text transform="translate(1309.2 1340.3) scale(1 1.04)" text-anchor="end" font-size="33">500</text>
<text transform="translate(1309.2 1240.9) scale(1 1.04)" text-anchor="end" font-size="33">1000</text>
<text transform="translate(1309.2 1141.4) scale(1 1.04)" text-anchor="end" font-size="33">1500</text>
<text transform="translate(1309.2 1042) scale(1 1.04)" text-anchor="end" font-size="33">2000</text>
<text transform="translate(1198.7 1225.7) rotate(-90)" text-anchor="middle" class="yl" font-size="33">Number of c-Fos-ir neurons</text>
<text transform="translate(1394.6 1461.9) rotate(-45) scale(1 1.04)" text-anchor="end" font-size="33">N3-10</text>
<text transform="translate(1526.4 1461.9) rotate(-45) scale(1 1.04)" text-anchor="end" font-size="33">S3-10</text>
<text transform="translate(1409.8 958.6) scale(1 1.02)" font-size="32">Non-touch</text>
<text transform="translate(1409.8 1005.8) scale(1 1.02)" font-size="32">Stroking</text>
<text transform="translate(1460.6 885.4) scale(1 1.04)" text-anchor="middle" font-size="47">MPA-AHA-LA</text>
<text transform="translate(1252.5 885.4)" text-anchor="middle" font-weight="bold" font-size="47.5">F</text>
<text class="dag" transform="translate(1461.1 1607.4) scale(0.79 1)" text-anchor="middle" font-size="62">†</text>
<text transform="translate(164 2286.2) scale(1 1.04)" text-anchor="end" font-size="33">0</text>
<text transform="translate(164 2153.6) scale(1 1.04)" text-anchor="end" font-size="33">500</text>
<text transform="translate(164 2021.1) scale(1 1.04)" text-anchor="end" font-size="33">1000</text>
<text transform="translate(164 1888.5) scale(1 1.04)" text-anchor="end" font-size="33">1500</text>
<text transform="translate(53.5 2072.2) rotate(-90)" text-anchor="middle" class="yl" font-size="33">Number of c-Fos-ir neurons</text>
<text transform="translate(249.4 2308.4) rotate(-45) scale(1 1.04)" text-anchor="end" font-size="33">N3-10</text>
<text transform="translate(381.2 2308.4) rotate(-45) scale(1 1.04)" text-anchor="end" font-size="33">S3-10</text>
<text transform="translate(264.6 1806.7) scale(1 1.02)" font-size="32">Non-touch</text>
<text transform="translate(264.6 1853.9) scale(1 1.02)" font-size="32">Stroking</text>
<text transform="translate(319.5 1725.5) scale(1 1.04)" text-anchor="middle" font-size="47">MeAV</text>
<text transform="translate(124.6 1725.5)" text-anchor="middle" font-weight="bold" font-size="47.5">G</text>
<text class="dag" transform="translate(315.3 2466.8) scale(0.79 1)" text-anchor="middle" font-size="62">†</text>
<text transform="translate(723 2286.1) scale(1 1.04)" text-anchor="end" font-size="33">0</text>
<text transform="translate(723 2186.7) scale(1 1.04)" text-anchor="end" font-size="33">500</text>
<text transform="translate(723 2087.3) scale(1 1.04)" text-anchor="end" font-size="33">1000</text>
<text transform="translate(723 1987.8) scale(1 1.04)" text-anchor="end" font-size="33">1500</text>
<text transform="translate(723 1888.4) scale(1 1.04)" text-anchor="end" font-size="33">2000</text>
<text transform="translate(612.5 2072.1) rotate(-90)" text-anchor="middle" class="yl" font-size="33">Number of c-Fos-ir neurons</text>
<text transform="translate(808.4 2308.3) rotate(-45) scale(1 1.04)" text-anchor="end" font-size="33">N3-10</text>
<text transform="translate(940.2 2308.3) rotate(-45) scale(1 1.04)" text-anchor="end" font-size="33">S3-10</text>
<text transform="translate(834.7 1805.4) scale(1 1.02)" font-size="32">Non-touch</text>
<text transform="translate(834.7 1852.6) scale(1 1.02)" font-size="32">Stroking</text>
<text transform="translate(872 1725.5) scale(1 1.04)" text-anchor="middle" font-size="47">MeAD</text>
<text transform="translate(694 1722)" text-anchor="middle" font-weight="bold" font-size="47.5">H</text>
<text class="ast" transform="translate(874.5 2460.6) scale(1.11 1)" text-anchor="middle" font-size="45">*</text>
<text class="dag" transform="translate(1020.9 1839.1) scale(0.79 1)" text-anchor="middle" font-size="62">†</text>
</g>
</svg>
</body>
</html>
